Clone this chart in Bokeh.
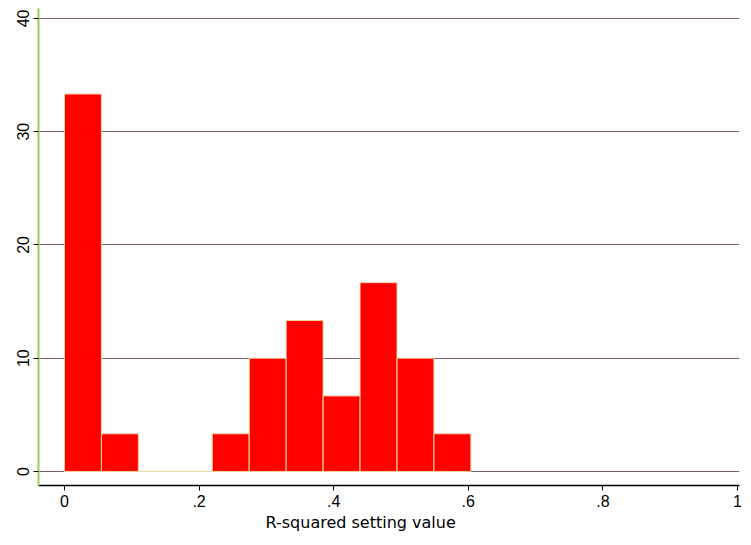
from bokeh.plotting import figure
from bokeh.models import Range1d, FixedTicker, Title
from bokeh.embed import file_html
from bokeh.resources import INLINE

# Histogram data (percent per bin)
bin_start = 0.0
bin_width = 0.0549
percents = [33.33, 3.33, 0.0, 0.0, 3.33, 10.0, 13.33, 6.67, 16.67, 10.0, 3.33]
x_ticks = [0, 0.2, 0.4, 0.6, 0.8, 1.0]
x_tick_labels = ["0", ".2", ".4", ".6", ".8", "1"]
y_ticks = [0, 10, 20, 30, 40]
x_title = "R-squared setting value"

lefts = [bin_start + i * bin_width for i in range(len(percents))]
rights = [l + bin_width for l in lefts]
bottoms = [0.0] * len(percents)

p = figure(width=743, height=537, output_backend="svg", toolbar_location=None,
           x_range=Range1d(-0.0386, 1.003), y_range=Range1d(-1.24, 40.88),
           min_border_left=38, min_border_right=4, min_border_top=8,
           min_border_bottom=52)
p.outline_line_color = None
p.background_fill_color = "white"
p.border_fill_color = "white"

p.quad(left=lefts, right=rights, bottom=bottoms, top=percents,
       fill_color="#ff0000", line_color="#f2d9a6", line_width=1)

p.xgrid.grid_line_color = None
p.ygrid.grid_line_color = "#806070"
p.ygrid.grid_line_width = 1
p.ygrid.ticker = FixedTicker(ticks=y_ticks)

p.xaxis.ticker = FixedTicker(ticks=x_ticks)
p.xaxis.major_label_overrides = {t: l for t, l in zip(x_ticks, x_tick_labels)}
p.xaxis.minor_tick_line_color = None
p.xaxis.axis_line_color = "black"
p.xaxis.axis_line_width = 1.5
p.xaxis.major_tick_line_color = "black"
p.xaxis.major_tick_out = 5
p.xaxis.major_tick_in = 0
p.xaxis.major_label_standoff = 4
p.xaxis.major_label_text_font = "Liberation Sans"
p.xaxis.major_label_text_font_size = "16px"
p.xaxis.major_label_text_color = "black"

t = Title(text=x_title, align="left", offset=227, standoff=2,
          text_font="DejaVu Sans", text_font_size="16px",
          text_font_style="normal", text_color="black")
p.add_layout(t, "below")

p.yaxis.ticker = FixedTicker(ticks=y_ticks)
p.yaxis.minor_tick_line_color = None
p.yaxis.axis_line_color = "#9acd5a"
p.yaxis.axis_line_width = 2
p.yaxis.major_tick_line_color = "black"
p.yaxis.major_tick_out = 5
p.yaxis.major_tick_in = 0
p.yaxis.major_label_standoff = 4
p.yaxis.major_label_orientation = "vertical"
p.yaxis.major_label_text_font = "Liberation Sans"
p.yaxis.major_label_text_font_size = "16px"
p.yaxis.major_label_text_color = "black"

open("out.html", "w").write(file_html(p, INLINE))
